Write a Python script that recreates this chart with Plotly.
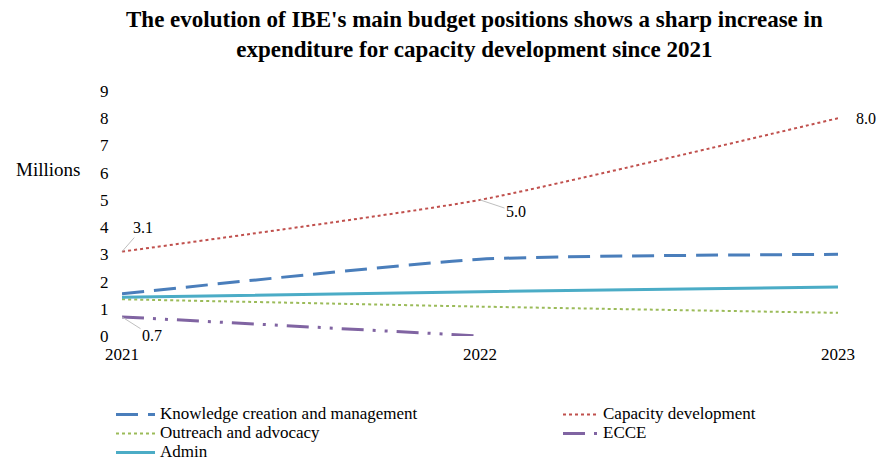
import plotly.graph_objects as go

years = ["2021", "2022", "2023"]
knowledge = [1.55, 2.82, 3.0]
capacity = [3.1, 5.0, 8.0]
outreach = [1.35, 1.08, 0.85]
ecce = [0.7, 0.0]
admin = [1.42, 1.63, 1.8]
y_ticks = [0, 1, 2, 3, 4, 5, 6, 7, 8, 9]
series_names = ["Knowledge creation and management", "Capacity development",
                "Outreach and advocacy", "ECCE", "Admin"]

FONT = "Liberation Serif"
W, H = 879, 460
# plot area in pixels: x 122..838, y 91..336
L, R, T, B = 122, W - 838, 91, H - 336
PW, PH = W - L - R, H - T - B
LEG_TXT = 17


def px_x(p):
    return (p - L) / PW


def px_y(p):
    return (H - B - p) / PH


def leg_name(s):
    return f"<span style='font-size:{LEG_TXT}px'>{s}</span>"


fig = go.Figure()
fig.add_trace(go.Scatter(x=years, y=knowledge, mode="lines", name=leg_name(series_names[0]),
                         legend="legend",
                         line=dict(color="#4A7EBB", width=3, dash="22px,10px", shape="spline", smoothing=0.5)))
fig.add_trace(go.Scatter(x=years, y=capacity, mode="lines", name=leg_name(series_names[1]),
                         legend="legend2",
                         line=dict(color="#C0504D", width=2, dash="dot", shape="spline", smoothing=0.5)))
fig.add_trace(go.Scatter(x=years, y=outreach, mode="lines", name=leg_name(series_names[2]),
                         legend="legend",
                         line=dict(color="#9BBB59", width=2, dash="dot", shape="spline", smoothing=0.5)))
fig.add_trace(go.Scatter(x=years[:2], y=ecce, mode="lines", name=leg_name(series_names[3]),
                         legend="legend2",
                         line=dict(color="#8064A2", width=3, dash="22px,9px,3px,9px,3px,9px", shape="spline")))
fig.add_trace(go.Scatter(x=years, y=admin, mode="lines", name=leg_name(series_names[4]),
                         legend="legend",
                         line=dict(color="#4BACC6", width=3, shape="spline", smoothing=0.5)))

lab_font = dict(family=FONT, size=16, color="#000")
ann_common = dict(showarrow=True, arrowhead=0, arrowwidth=1, arrowcolor="#BFBFBF",
                  font=lab_font, xref="x", yref="y", standoff=0)
fig.add_annotation(x=0, y=capacity[0], text=f"{capacity[0]:.1f}", ax=21, ay=-24, **ann_common)
fig.add_annotation(x=1, y=capacity[1], text=f"{capacity[1]:.1f}", ax=36, ay=12, **ann_common)
fig.add_annotation(x=2, y=capacity[2], text=f"{capacity[2]:.1f}", ax=28, ay=0,
                   showarrow=True, arrowcolor="rgba(0,0,0,0)", arrowhead=0,
                   font=lab_font, xref="x", yref="y")
fig.add_annotation(x=0, y=ecce[0], text=f"{ecce[0]:.1f}", ax=30, ay=19, **ann_common)

fig.add_annotation(x=px_x(48), y=px_y(169), xref="paper", yref="paper", xanchor="center", yanchor="middle",
                   text="Millions", showarrow=False,
                   font=dict(family=FONT, size=19, color="#000"))
fig.add_annotation(x=px_x(474), y=px_y(5.5), xref="paper", yref="paper", xanchor="center", yanchor="top",
                   showarrow=False, borderpad=0,
                   text="<b>The evolution of IBE's main budget positions shows a sharp increase in<br>expenditure for capacity development since 2021</b>",
                   font=dict(family=FONT, size=23, color="#000"))

leg_common = dict(orientation="v", xref="paper", yref="paper", xanchor="left", yanchor="top",
                  font=dict(family=FONT, size=12, color="#000"), tracegroupgap=0,
                  bgcolor="rgba(0,0,0,0)")

fig.update_layout(
    width=W, height=H,
    margin=dict(l=L, r=R, t=T, b=B, autoexpand=False),
    paper_bgcolor="white", plot_bgcolor="white",
    font=dict(family=FONT, size=17, color="#000"),
    xaxis=dict(type="category", range=[0, 2], showgrid=False, showline=False, zeroline=False,
               ticks="outside", ticklen=3, tickcolor="rgba(0,0,0,0)", tickfont=dict(size=17),
               automargin=False),
    yaxis=dict(range=[0, 9], tickvals=y_ticks, showgrid=False, showline=False, zeroline=False,
               ticks="outside", ticklen=9, tickcolor="rgba(0,0,0,0)", tickfont=dict(size=17),
               automargin=False),
    legend=dict(x=px_x(111), y=px_y(400), itemwidth=39, **leg_common),
    legend2=dict(x=px_x(558), y=px_y(400), itemwidth=35, **leg_common),
    showlegend=True,
)

fig.write_html("out.html", config={"displayModeBar": False},
               post_script="document.body.style.margin='0';document.body.style.overflow='hidden';")
